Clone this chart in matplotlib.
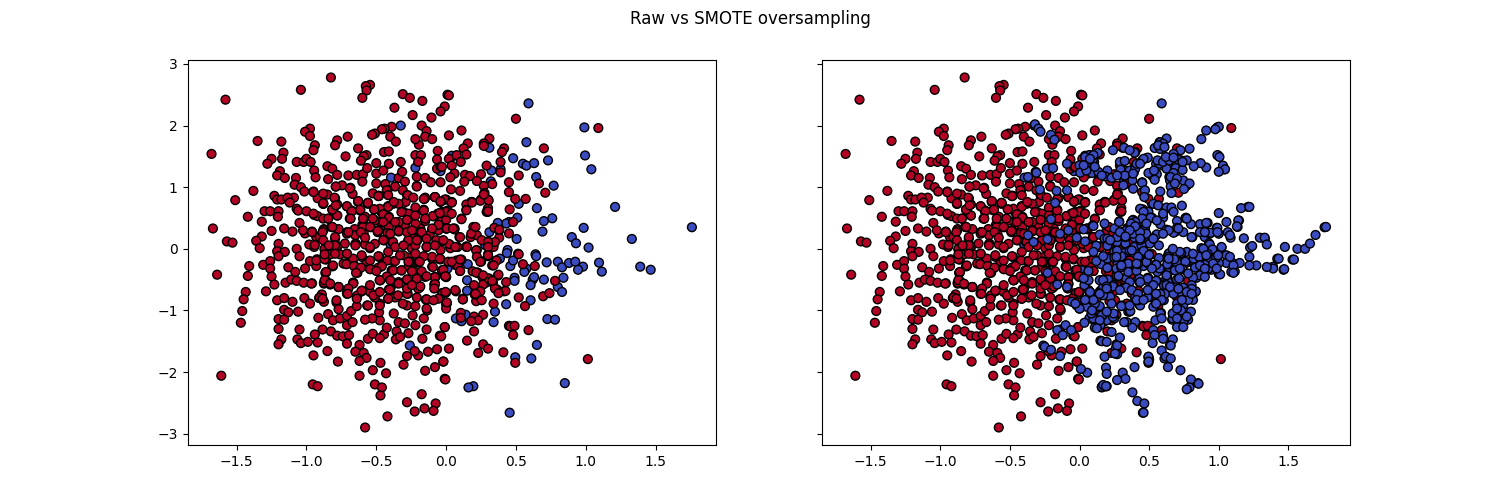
import matplotlib
matplotlib.use("Agg")
import matplotlib.pyplot as plt
import numpy as np

title = "Raw vs SMOTE oversampling"

majority_points = [
(-0.825,2.78),(-1.04,2.58),(-1.58,2.42),(-0.545,2.66),(-0.575,2.64),(-0.57,2.57),(-0.60,2.45),(-0.31,2.51),(-0.26,2.45),(-0.17,2.40),
(-0.37,2.29),(0.01,2.50),(-0.01,2.31),(-0.04,2.23),(-0.105,2.13),(-0.24,2.17),(-0.175,2.00),(-0.14,1.91),(-0.15,1.82),(-0.10,1.78),
(-0.39,1.98),(-0.44,1.95),(-0.46,1.94),(-0.51,1.87),(-0.53,1.85),(-0.40,1.82),(-0.36,1.74),(-0.975,1.95),(-1.01,1.90),(-0.975,1.83),
(-1.35,1.75),(-1.18,1.74),(-0.705,1.82),(-0.78,1.76),(-0.795,1.68),(-0.94,1.68),(-0.95,1.60),(-0.63,1.63),(-1.68,1.54),(-1.165,1.56),
(-1.175,1.46),(-1.25,1.46),(-1.28,1.38),(-0.72,1.50),(-0.57,1.52),(-0.59,1.50),(-0.61,1.43),(-0.445,1.57),(-0.41,1.58),(-0.22,1.52),
(-0.18,1.52),(-0.195,1.69),(-0.22,1.78),(-0.06,1.59),(-0.065,1.45),(-0.20,1.41),(-0.325,1.41),(-0.41,1.38),(-0.50,1.39),(-1.07,1.41),
(-1.02,1.41),(-1.0,1.46),(-0.97,1.41),(-0.945,1.27),(-0.935,1.16),(-0.85,1.34),(-0.815,1.30),(-0.78,1.20),(-1.19,1.26),(-1.21,1.19),
(-1.155,1.15),(-1.075,1.15),(-1.085,1.04),(-1.04,1.00),(-1.015,0.93),(-0.95,0.93),(-1.38,0.94),(-0.845,1.13),(-0.79,1.01),(-0.745,1.03),
(-0.70,1.19),(-0.64,1.20),(-0.595,1.21),(-0.565,1.31),(-0.50,1.22),(-0.45,1.27),(-0.34,1.15),(-0.60,1.09),(-0.685,0.99),(-0.50,1.06),
(-0.435,1.05),(-0.365,1.01),(-0.315,1.25),(-0.295,1.09),(-0.21,1.17),(-0.15,1.15),(-0.04,1.08),(-0.11,1.08),(-0.21,1.02),(-0.065,1.30),
(-0.04,1.33),(0.02,1.46),(-1.51,0.79),(-1.23,0.86),(-1.21,0.80),(-1.18,0.80),(-1.09,0.83),(-1.135,0.83),(-1.12,0.75),(-1.07,0.65),
(-1.06,0.62),(-1.0,0.61),(-0.92,0.82),(-0.88,0.73),(-0.85,0.88),(-0.795,0.82),(-0.78,0.72),(-0.71,0.69),(-0.67,0.89),(-0.63,0.77),
(-0.525,0.90),(-0.48,0.86),(-0.42,0.95),(-0.31,0.95),(-0.28,0.87),(-0.29,0.76),(-0.155,0.81),(-0.08,0.84),(0,0.80),(-0.56,0.73),
(-0.38,0.73),(-0.415,0.69),(-1.30,0.61),(-1.26,0.61),(-1.20,0.61),(-1.205,0.52),(-1.42,0.52),(-1.32,0.44),(-0.945,0.55),(-0.92,0.53),
(-0.845,0.49),(-0.815,0.64),(-0.78,0.54),(-0.68,0.61),(-0.615,0.63),(-0.685,0.49),(-0.59,0.49),(-0.515,0.64),(-0.465,0.60),(-0.45,0.49),
(-0.41,0.52),(-0.305,0.60),(-0.265,0.56),(-0.22,0.57),(-0.165,0.62),(-0.09,0.53),(-0.03,0.60),(0.01,0.62),(-1.05,0.42),(-0.815,0.35),
(-0.875,0.32),(-0.96,0.28),(-1.01,0.25),(-1.025,0.30),(-1.10,0.28),(-1.16,0.33),(-1.25,0.29),(-1.67,0.33),(-1.32,0.20),(-1.36,0.13),
(-1.57,0.12),(-1.53,0.10),(-1.335,0.01),(-1.20,0.08),(-1.21,-0.04),(-1.155,-0.05),(-1.07,0),(-0.98,0.07),(-0.945,0.03),(-0.90,0.21),
(-0.93,0.19),(-0.795,0.165),(-0.77,0.32),(-0.71,0.27),(-0.655,0.32),(-0.60,0.39),(-0.54,0.35),(-0.49,0.27),(-0.46,0.38),(-0.41,0.35),
(-0.34,0.28),(-0.295,0.38),(-0.24,0.27),(-0.185,0.33),(-0.10,0.30),(-0.05,0.38),(0,0.33),(-0.645,0.08),(-0.545,0.01),(-0.445,0.14),
(-0.385,0.11),(-0.27,0.14),(-0.245,0.01),(-0.135,0.04),(-0.04,-0.02),(0.03,0.06),(-0.87,-0.01),(-0.78,0.03),
(0.02,2.49),(0.50,2.11),(1.09,1.96),(0.11,1.92),(0.02,1.84),(0.31,1.79),(0.27,1.71),(0.27,1.67),(0.155,1.71),(0.125,1.63),
(0.075,1.52),(0.145,1.53),(0.105,1.41),(0.415,1.63),(0.40,1.57),(0.70,1.63),(0.39,1.41),(0.29,1.35),(0.39,1.24),(0.04,1.35),
(-0.03,1.33),(0.06,1.22),(0.03,1.16),(0.135,1.20),(0.17,1.18),(0.13,1.09),(0.25,1.21),(0.22,1.10),(0.52,1.19),(0.45,1.08),
(0.27,1.02),(0.33,1.05),(0.035,0.965),(0.10,0.94),(0.665,1.06),(0.71,0.91),(0.275,0.905),(0.45,0.92),(0.57,0.81),(0.495,0.81),
(0.30,0.80),(0.25,0.80),(0.18,0.76),(0.145,0.72),(0.04,0.755),(-0.01,0.80),(0.30,0.66),(0.30,0.60),(0.145,0.63),(0.455,0.64),
(0.11,0.49),(0.03,0.56),(0,0.59),(-0.03,0.49),(0.005,0.33),(0.06,0.33),(0.205,0.35),(0.345,0.34),(0.38,0.30),(0.45,0.25),
(0.38,0.18),(0.095,0.19),(0.175,0.19),(0.30,0.12),(0.34,0.03),(0.22,-0.02),(0.145,0.04),(0.08,0.03),(0.03,0.01),(-0.025,0.13),
(0.48,0.435),(0.515,-0.08),(0.30,-0.09),
(-1.64,-0.42),(-1.41,-0.28),(-1.42,-0.44),(-1.435,-0.70),(-1.45,-0.82),(-1.46,-1.01),(-1.47,-1.20),(-1.61,-2.06),(-1.31,-0.26),(-1.26,-0.20),
(-1.26,-0.32),(-1.25,-0.45),(-1.23,-0.58),(-1.29,-0.69),(-1.20,-0.12),(-1.13,-0.30),(-1.08,-0.375),(-1.15,-0.55),(-1.11,-0.50),(-1.07,-0.52),
(-1.02,-0.55),(-0.96,-0.56),(-1.01,-0.32),(-0.975,-0.20),(-0.925,-0.17),(-0.93,-0.28),(-0.865,-0.39),(-0.86,-0.52),(-0.875,-0.565),(-0.81,-0.28),
(-0.86,-0.175),(-0.77,-0.62),(-0.83,-0.58),(-1.21,-0.835),(-1.16,-0.80),(-1.10,-0.86),(-1.16,-0.99),(-1.13,-1.03),(-1.06,-1.02),(-1.20,-1.14),
(-1.16,-1.15),(-1.20,-1.30),(-1.05,-1.31),(-1.18,-1.47),(-1.20,-1.55),(-1.065,-1.47),(-1.04,-1.53),(-0.99,-1.51),(-0.92,-1.52),(-0.94,-1.39),
(-0.885,-1.31),(-0.915,-1.12),(-1.015,-0.80),(-0.975,-0.89),(-0.91,-0.80),(-0.875,-0.86),(-0.89,-0.74),(-0.785,-0.87),(-0.77,-0.98),(-0.845,-1.06),
(-0.81,-1.16),(-0.76,-1.13),(-0.71,-1.09),(-0.71,-1.24),(-0.67,-1.19),(-0.68,-1.01),(-0.64,-0.93),(-0.71,-0.71),(-0.825,-1.34),(-0.78,-1.41),
(-0.74,-1.42),(-0.695,-1.40),(-0.71,-1.54),(-0.85,-1.66),(-0.95,-1.73),(-0.775,-1.83),(-0.955,-2.20),(-0.92,-2.23),(-0.62,-1.56),(-0.65,-1.67),
(-0.59,-1.69),(-0.57,-1.77),(-0.62,-1.82),(-0.56,-1.46),(-0.525,-1.38),(-0.47,-1.85),(-0.525,-1.97),(-0.43,-2.02),(-0.62,-2.06),(-0.51,-2.20),
(-0.46,-2.25),(-0.47,-2.38),(-0.28,-2.49),(-0.175,-2.36),(-0.075,-2.51),(-0.225,-2.64),(-0.155,-2.59),(-0.09,-2.63),(-0.42,-2.72),(-0.58,-2.90),
(-0.305,-1.88),(-0.28,-1.74),(-0.15,-1.98),(-0.08,-1.92),(-0.02,-1.83),(-0.01,-2.11),(-0.065,-1.63),(-0.13,-1.67),(-0.20,-1.73),(-0.225,-1.66),
(-0.17,-1.46),(-0.045,-1.41),(-0.01,-1.27),(-0.14,-1.31),(-0.27,-1.37),(-0.355,-1.34),(-0.36,-1.47),(-0.33,-1.43),(-0.445,-1.39),(-0.475,-1.45),
(-0.425,-1.28),(-0.475,-1.16),(-0.34,-1.19),(-0.295,-1.21),(-0.22,-1.24),(-0.16,-1.13),(-0.135,-1.0),(-0.24,-1.08),(-0.375,-1.05),(-0.48,-1.03),
(-0.53,-1.13),(-0.58,-1.15),(-0.565,-0.92),(-0.475,-0.89),(-0.28,-0.92),(-0.22,-0.93),(-0.14,-0.82),(-0.415,-0.81),(-0.51,-0.79),(-0.64,-0.78),
(-0.60,-0.68),(-0.41,-0.66),(-0.275,-0.73),(-0.19,-0.63),(-0.03,-0.72),(0,-0.90),(-0.085,-0.58),(-0.27,-0.52),(-0.37,-0.565),(-0.47,-0.51),
(-0.665,-0.55),(-0.545,-0.32),(-0.635,-0.39),(-0.465,-0.29),(-0.38,-0.35),(-0.27,-0.29),(-0.20,-0.22),(-0.10,-0.29),(-0.08,-0.47),(-0.21,-0.48),
(0,-0.46),(-0.66,-0.26),(-0.57,-0.20),(-0.48,-0.13),(-0.375,-0.20),(-0.265,-0.14),(-0.045,-0.17),(-0.71,-0.24),(-0.76,-0.09),(-0.83,-0.09),(-1.05,-0.12),
(0.52,-0.09),(0.30,-0.12),(0.11,-0.175),(0.25,-0.20),(0.36,-0.19),(0.33,-0.27),(0.065,-0.26),(0.55,-0.25),(0.635,-0.28),(0.10,-0.36),
(0.19,-0.365),(0.225,-0.39),(0.26,-0.46),(0.305,-0.48),(0.37,-0.435),(0.335,-0.55),(0.43,-0.54),(0.265,-0.58),(0,-0.45),(-0.03,-0.35),
(0.365,-0.66),(0.245,-0.69),(0.205,-0.74),(0.215,-0.85),(0.12,-0.82),(0.07,-0.69),(0.005,-0.89),(0,-0.97),(-0.025,-0.72),(0.52,-0.79),
(0.565,-0.93),(0.695,-0.77),(0.74,-0.72),(0.78,-0.52),(0.265,-1.07),(0.105,-1.04),(0.105,-1.12),(0.20,-1.10),(0.23,-1.16),(0.18,-1.175),
(-0.01,-1.27),(0.20,-1.34),(-0.035,-1.42),(0.45,-1.25),(0.46,-1.26),(0.49,-1.25),(0.48,-1.40),(0.59,-1.32),(0.15,-1.49),(0.265,-1.55),
(0.30,-1.62),(0.23,-1.69),(0.41,-1.68),(0.495,-1.85),(0.02,-1.62),(-0.02,-1.83),(-0.005,-2.12),(1.015,-1.79),
(-0.95,0.92),(-0.79,1.01),(-0.69,0.98),(-0.485,0.86),(-0.425,0.95),(-0.275,0.87),(-0.21,1.01),(-0.15,0.83),(-0.08,0.84),(0.04,0.76),
(-0.04,0.76),(0.245,0.78),(0.185,0.76),(0.29,0.60),(-0.88,0.73),(-0.81,0.635),(-0.78,0.54),(-0.68,0.625),(-0.63,0.76),(-0.56,0.745),
(-0.62,0.625),(-0.475,0.65),(-0.415,0.69),(-0.34,0.73),(-0.27,0.57),(-0.22,0.67),(-0.16,0.635),(-0.09,0.53),(0,0.60),(0,0.47),
(-0.06,0.57),(-0.95,0.57),(-0.69,0.49),(-0.58,0.52),(-0.51,0.46),(-0.41,0.505),(-0.34,0.435),(-0.22,0.41),(-0.15,0.45),(-0.96,0.27),
(-0.88,0.30),(-0.82,0.355),(-0.905,0.19),(-0.795,0.19),(-0.71,0.245),(-0.59,0.38),(-0.65,0.22),(-0.59,0.245),(-0.485,0.30),(-0.42,0.255),
(-0.34,0.30),(-0.25,0.245),(-0.18,0.27),(-0.12,0.22),(-0.055,0.30),(0,0.33),(0.06,0.315),(0.195,0.355),(0.22,0.22),(0.38,0.31),
(-0.94,0.06),(-0.87,0),(-0.78,0.045),(-0.71,-0.08),(-0.65,0.08),(-0.58,0.07),(-0.51,0.08),(-0.445,0.14),(-0.38,0.11),(-0.27,0.14),
(-0.22,0.055),(-0.14,0.03),(-0.205,0.14),(-0.07,0.14),(0.02,0.08),(0.08,0.03),(0.145,0.03),(0.215,-0.025),(0.30,0.11),(-0.93,-0.19),
(-0.87,-0.17),(-0.815,-0.285),(-0.735,-0.24),(-0.665,-0.16),(-0.605,-0.13),(-0.64,-0.32),(-0.48,-0.13),(-0.42,-0.19),(-0.365,-0.20),(-0.305,-0.105),
(-0.19,-0.21),(-0.26,-0.21),(-0.10,-0.16),(-0.04,-0.17),(0.015,-0.21),(0.075,-0.19),(0.25,-0.21),(0.36,-0.19),(-0.86,-0.385),(-0.54,-0.33),
(-0.485,-0.305),(-0.39,-0.35),(-0.32,-0.35),(-0.235,-0.35),(-0.15,-0.455),(-0.08,-0.455),(-0.01,-0.44),(0.085,-0.285),(0.225,-0.385),(0.305,-0.485),
(0.375,-0.42),(-0.965,-0.565),(-0.875,-0.55),(-0.77,-0.62),(-0.665,-0.55),(-0.605,-0.69),(-0.545,-0.70),(-0.475,-0.51),(-0.40,-0.655),(-0.34,-0.54),
(-0.27,-0.52),(-0.20,-0.645),(-0.08,-0.565),(0.065,-0.67),(0.21,-0.745),(0.425,-0.685),(0.35,-0.645),(-0.905,-0.79),(-0.71,-0.73),(-0.635,-0.755),
(-0.52,-0.755),(-0.365,-0.79),(-0.28,-0.73),(-0.145,-0.825),(-0.055,-0.81),(0.12,-0.81),
(-0.88,0.74),(-0.88,0.895),(-0.80,0.83),(-0.815,0.635),(-0.79,0.705),(-0.71,0.69),(-0.63,0.775),(-0.56,0.745),(-0.485,0.855),(-0.415,0.87),
(-0.415,0.68),(-0.375,0.76),(-0.675,0.61),(-0.615,0.635),(-0.515,0.64),(-0.45,0.56),(-0.41,0.505),(-0.32,0.595),(-0.28,0.47),(-0.88,0.49),
(-0.815,0.355),(-0.845,0.49),(-0.685,0.49),(-0.595,0.355),(-0.595,0.49),(-0.525,0.49),(-0.45,0.435),(-0.365,0.435),(-0.70,0.27),(-0.61,0.27),
(-0.545,0.355),(-0.49,0.29),(-0.40,0.245),(-0.34,0.29),(-0.28,0.27),(-0.885,0.27),(-0.795,0.055),(-0.725,0.085),(-0.65,0.055),(-0.58,0.18),
(-0.545,0.03),(-0.45,0.14),(-0.365,0.03),(-0.305,0.055),(-0.88,0.14),(-0.84,0.055),
(-0.16,0.81),(-0.08,0.84),(-0.04,0.77),(0.04,0.75),(-0.235,0.83),(-0.16,0.62),(-0.095,0.53),(0,0.60),(0.04,0.57),(-0.045,0.58),
(-0.22,0.54),(-0.15,0.49),(0.145,0.625),(0.185,0.75),(0.30,0.61),(0.305,0.785),(0.27,0.88),(0.11,0.48),(-0.055,0.39),(-0.10,0.33),
(0.005,0.33),(0.05,0.33),(-0.175,0.27),(-0.245,0.30),(0.10,0.19),(0.18,0.245),(0.21,0.355),(0.255,0.14),(0.35,0.11),(0.30,0.11),
(-0.21,0.14),(-0.14,0.165),(-0.02,0.14),(-0.14,0.03),(-0.08,0.055),(0.065,0.03),(0.15,0.03),(0.30,0.03),
(-0.87,-0.09),(-0.795,-0.08),(-0.71,-0.08),(-0.605,-0.105),(-0.545,-0.19),(-0.485,-0.12),(-0.415,-0.05),(-0.33,-0.105),(-0.27,-0.21),(-0.81,-0.27),
(-0.715,-0.25),(-0.66,-0.28),(-0.61,-0.305),(-0.545,-0.33),(-0.46,-0.28),(-0.38,-0.35),(-0.32,-0.35),(-0.86,-0.375),(-0.645,-0.39),(-0.50,-0.36),
(-0.425,-0.45),(-0.28,-0.495),(-0.87,-0.51),(-0.83,-0.565),(-0.77,-0.62),(-0.665,-0.565),(-0.70,-0.645),(-0.605,-0.68),(-0.545,-0.59),(-0.475,-0.51),
(-0.40,-0.51),(-0.34,-0.565),(-0.405,-0.66),(-0.475,-0.70),(-0.28,-0.645),(-0.885,-0.81),(-0.785,-0.835),(-0.705,-0.73),(-0.64,-0.81),(-0.56,-0.92),
(-0.475,-0.92),(-0.415,-0.81),(-0.345,-0.755),(-0.31,-0.89),
(-0.22,-0.08),(-0.16,-0.12),(-0.10,-0.13),(-0.045,-0.16),(0.04,-0.21),(0.10,-0.175),(0.22,-0.13),(0.30,-0.105),(0.245,-0.21),(0.34,-0.27),
(-0.19,-0.21),(-0.095,-0.295),(-0.175,-0.365),(-0.245,-0.365),(-0.02,-0.34),(0.10,-0.36),(-0.08,-0.46),(-0.005,-0.445),(-0.21,-0.485),(-0.14,-0.445),
(0.215,-0.385),(0.265,-0.43),(0.33,-0.52),(-0.08,-0.575),(-0.185,-0.61),(-0.245,-0.59),(0.20,-0.59),(-0.005,-0.70),(-0.085,-0.645),(-0.21,-0.79),
(-0.14,-0.82),(-0.09,-0.835),(0.005,-0.87),(0.21,-0.73),(0.12,-0.82),(0.255,-0.835),(0.375,-0.72),(0.34,-0.89),(-0.14,-0.97),
]

minority_points = [
(0.59,2.36),(0.99,1.97),(0.31,1.64),(0.575,1.73),(0.48,1.47),(0.55,1.38),(0.575,1.35),(0.63,1.39),(0.73,1.435),(0.995,1.515),
(1.04,1.29),(0.325,1.27),(0.39,1.29),(0.645,1.165),(0.77,1.025),(0.32,1.095),(0.05,1.505),(0.52,0.73),(0.65,0.66),(1.21,0.68),
(0.76,0.495),(0.70,0.45),(0.51,0.505),(0.45,0.435),(0.43,0.41),(0.37,0.42),(0.69,0.28),(1.76,0.35),(0.985,0.34),(0.90,0.19),
(0.93,0.09),(1.02,0.02),(1.33,0.16),(0.31,0.27),(0.505,0.16),(0.28,0.06),(0.44,-0.02),(0.64,-0.09),(0.645,-0.12),(0.435,-0.07),
(0.385,-0.16),(0.155,-0.25),(0.01,-0.32),(0.46,-0.28),(0.48,-0.19),(0.575,-0.32),(0.56,-0.375),(0.72,-0.22),(0.80,-0.21),(0.83,-0.30),
(0.88,-0.23),(0.925,-0.21),(0.98,-0.29),(0.945,-0.34),(1.095,-0.225),(1.115,-0.37),(1.39,-0.29),(1.465,-0.34),(0.15,-0.51),(0.285,-0.55),
(0.49,-0.47),(0.49,-0.52),(0.62,-0.50),(0.63,-0.46),(0.605,-0.59),(0.70,-0.50),(0.84,-0.47),(0.80,-0.62),(0.83,-0.70),(0.415,-0.69),
(0.15,-0.68),(0,-0.71),(0.43,-0.90),(0.605,-0.835),(0.35,-1.02),(0.34,-1.19),(0.14,-1.07),(0.07,-1.13),(0.11,-1.175),(0.725,-1.14),
(0.78,-1.15),(0.65,-1.56),(0.495,-1.76),(0.61,-1.78),(0.85,-2.18),(0.195,-2.23),(0.16,-2.25),(0.455,-2.66),(-0.26,-1.57),(-0.325,2.0),
(-0.22,1.315),(-0.395,1.155),(0.04,1.51),(-0.04,1.26),(-0.40,0.08),
]

smote_points = [
(1.0,1.98),(0.975,1.94),(0.91,1.92),(0.875,1.78),(0.625,1.79),(0.58,1.73),(0.60,1.705),(0.54,1.635),(0.58,1.62),(0.565,1.68),
(0.61,1.65),(0.79,1.625),(0.725,1.60),(0.675,1.54),(0.99,1.52),(1.005,1.49),(1.03,1.35),(1.045,1.29),(1.0,1.25),(0.91,1.32),
(0.87,1.39),(0.82,1.34),(0.77,1.435),(0.71,1.445),(0.64,1.38),(0.575,1.38),(0.625,1.30),(0.69,1.31),(0.74,1.28),(0.675,1.23),
(0.49,1.48),(0.45,1.435),(0.395,1.56),(0.32,1.64),(0.24,1.60),(0.36,1.60),(0.13,1.555),(0.07,1.52),(0.095,1.445),(0.04,1.49),
(0,1.355),(0.045,1.355),(-0.09,1.38),(0.005,1.235),(0.09,1.23),(0.14,1.22),(0.20,1.27),(0.185,1.175),(0.23,1.15),(0.29,1.41),
(0.325,1.425),(0.295,1.285),(0.36,1.27),(0.40,1.30),(0.41,1.38),(0.325,1.19),(0.315,1.03),(0.38,1.11),(0.385,0.975),(0.45,1.07),
(0.47,0.95),(0.465,0.84),(0.495,1.23),(0.555,1.21),(0.54,1.12),(0.65,1.11),(0.655,1.01),(0.66,0.905),(0.745,1.11),(0.79,1.06),
(0.75,0.97),(0.58,0.93),(0.53,0.73),(0.565,0.705),(0.625,0.67),(0.66,0.67),(0.675,0.60),(0.735,0.70),(1.16,0.66),(1.22,0.68),
(1.0,0.58),(0.495,0.60),(0.60,0.505),(0.52,0.505),(0.46,0.435),(0.385,0.47),(0.285,0.445),(0.18,0.41),(0.25,0.33),(0.335,0.30),
(0.40,0.355),(0.47,0.33),(0.58,0.40),(0.625,0.31),(0.675,0.26),(0.70,0.34),(0.765,0.505),(0.80,0.40),(0.865,0.40),(0.92,0.42),
(0.745,0.27),(0.81,0.19),(0.935,0.245),(0.99,0.34),(1.0,0.245),(1.055,0.435),(1.065,0.27),(1.085,0.18),(1.135,0.355),(1.145,0.46),
(1.18,0.17),(1.295,0.18),(1.33,0.18),(1.345,0.07),(1.225,0.02),(1.24,0.045),(1.475,0.03),(1.565,0),(1.62,0),(1.655,0.085),
(1.695,0.225),(1.77,0.355),(1.42,-0.16),(1.53,-0.175),(0.095,0.38),(0.03,0.315),(0.145,0.23),(0.18,0.165),(0.26,0.11),(0.325,0.085),
(0.395,0.18),(0.395,0.03),(0.46,-0.025),(0.48,0.245),(0.55,0.22),(0.57,0.055),(0.505,0.085),(0.32,-0.07),(0.64,-0.08),(0.735,-0.07),
(0.77,-0.05),(0.875,0.01),(0.935,0.07),(1.02,0.03),(0.96,-0.05),(1.055,-0.105),(1.22,-0.13),(-0.08,0.30),(-0.14,0.245),(-0.23,0.155),
(-0.33,0.11),(-0.37,0.22),(-0.205,0.48),(-0.175,0.745),(-0.285,0.96),(-0.165,0.94),(-0.09,0.95),(-0.31,1.235),(-0.37,1.165),(-0.235,1.30),
(-0.19,1.31),(-0.205,1.85),(-0.18,1.77),(-0.32,2.02),(-0.295,1.95),(-0.28,1.90),
(1.47,-0.33),(1.39,-0.32),(1.345,-0.295),(1.27,-0.27),(1.22,-0.27),(1.43,-0.16),(1.54,-0.175),(1.15,-0.23),(1.09,-0.375),(1.055,-0.23),
(1.00,-0.41),(1.0,-0.23),(0.93,-0.20),(0.93,-0.32),(0.83,-0.305),(0.865,-0.43),(0.765,-0.23),(0.70,-0.23),(0.63,-0.14),(0.575,-0.32),
(0.635,-0.39),(0.495,-0.24),(0.48,-0.215),(0.405,-0.34),(0.34,-0.25),(0.27,-0.21),(0.27,-0.35),(0.20,-0.16),(0.20,-0.31),(0.064,-0.36),
(0.205,-0.50),(0.245,-0.59),(0.17,-0.62),(0.135,-0.72),(0.035,-0.59),(-0.16,-0.58),(-0.23,-0.39),(0.335,-0.48),(0.42,-0.49),(0.495,-0.48),
(0.555,-0.52),(0.635,-0.54),(0.715,-0.48),(0.815,-0.47),(0.72,-0.70),(0.805,-0.59),(0.83,-0.70),(0.775,-0.78),(0.815,-0.83),(0.575,-0.73),
(0.615,-0.73),(0.49,-0.78),(0.43,-0.90),(0.40,-0.82),(0.55,-0.88),(0.585,-1.04),(0.735,-0.92),(0.80,-1.02),(0.67,-1.05),(0.73,-1.06),
(0.75,-1.16),(0.665,-1.15),(0.70,-1.27),(0.745,-1.27),(0.545,-1.16),(0.30,-0.92),(0.36,-1.02),(0.32,-1.19),(0.40,-1.19),(0.38,-1.28),
(0.25,-1.13),(0.195,-1.16),(0.165,-1.08),(0.10,-1.13),(0.15,-1.24),(0.11,-1.28),(0.035,-1.20),(0.05,-0.94),(-0.02,-0.92),(-0.055,-0.86),
(0.145,-0.93),(-0.10,-1.24),(-0.06,-1.32),(-0.16,-1.32),(-0.12,-1.40),(-0.25,-1.59),(-0.205,-1.64),(-0.14,-1.74),(0.53,-1.32),(0.54,-1.40),
(0.60,-1.40),(0.67,-1.47),(0.655,-1.57),(0.525,-1.53),(0.23,-1.35),(0.29,-1.44),(0.16,-1.50),(0.195,-1.51),(0.26,-1.62),(0.27,-1.71),
(0.18,-1.75),(0.59,-1.65),(0.62,-1.75),(0.655,-1.78),(0.50,-1.80),(0.395,-1.92),(0.635,-1.92),(0.725,-1.97),(0.19,-1.93),(0.195,-2.03),
(0.31,-2.01),(0.33,-2.11),(0.27,-2.13),(0.055,-2.01),(0.01,-1.95),(0.185,-2.23),(0.16,-2.24),(0.80,-2.12),(0.855,-2.19),(0.79,-2.25),
(0.77,-2.28),(0.38,-2.33),(0.415,-2.47),(0.465,-2.51),(0.46,-2.66),
(0.10,0.37),(0.285,0.435),(0.38,0.46),(0.46,0.435),(0.51,0.505),(0.77,0.49),(0.91,0.42),(0.71,0.33),(0.64,0.30),(0.805,0.19),
(0.94,0.26),(1.14,0.46),(1.13,0.365),(1.08,0.22),(0.20,0.165),(0.27,0.11),(0.33,0.085),(0.555,0.235),(0.445,0.055),(0.46,-0.035),
(0.645,-0.07),(0.955,-0.01),(0.73,-0.07),(0.64,-0.13),(0.76,-0.21),(0.82,-0.16),(1.105,-0.27),(1.105,-0.39),(0.925,-0.32),(1.01,-0.415),
(0.90,-0.455),(0.35,-0.24),(0.265,-0.32),(0.35,-0.375),(0.41,-0.36),(0.28,-0.44),(0.145,-0.51),(0.24,-0.61),(0.36,-0.54),(0.43,-0.485),
(0.49,-0.485),(0.625,-0.43),(0.55,-0.52),(0.335,-0.63),(0.40,-0.79),(0.435,-0.92),(0.49,-0.79),(0.58,-0.73),(0.625,-0.59),(0.68,-0.63),
(0.835,-0.69),(0.77,-0.78),(0.745,-0.92),(0.30,-0.93),(0.365,-1.01),(0.075,-0.755),(0.24,-1.105),(0.58,-1.05),(0.67,-1.13),(0.16,-1.08),
(0.085,-1.05),(0.25,-0.05),(0.30,-0.12),(0.36,-0.03),(0.42,-0.13),(0.50,-0.10),(0.57,-0.15),(0.68,-0.17),(0.72,-0.05),(0.86,-0.13),
(0.92,-0.08),(0.98,-0.15),(1.08,-0.13),(0.30,-0.30),(0.42,-0.25),(0.55,-0.26),(0.63,-0.25),(0.74,-0.33),(0.78,-0.40),(0.90,-0.26),
(0.12,0.05),(0.20,0.05),(0.27,-0.03),(0.10,-0.05),(0.04,0.12),(-0.02,0.18),(0.12,-0.20),(0.17,-0.12),(0.25,-0.14),
(0.46,1.46),(0.435,1.38),(0.535,1.27),(0.56,1.435),(0.60,1.41),(0.645,1.435),(0.62,1.49),(0.675,1.48),(0.74,1.41),(0.655,1.165),
(0.70,1.14),(0.685,1.06),(0.385,1.22),(0.27,1.19),(0.135,1.25),(0.05,1.27),(0.03,1.355),(0.11,1.33),(0.16,1.19),(0.10,1.52),
(0.075,1.46),(0.435,0.65),(0.46,0.60),(0.45,0.49),(0.40,0.435),(0.37,0.41),(0.555,0.46),(0.60,0.57),(0.48,0.41),(0.865,0.27),
(0.90,0.27),(0.99,0.27),(0.89,0),(0.27,0.19),(0.22,0.14),(0.29,0.27),(0.385,0.245),(0.435,0.27),(0.435,0.14),(0.33,0.19),
(0.53,0.165),(0.60,0.245),(0.67,0),(0.815,-0.08),(0.91,-0.105),(0.995,-0.105),
(0.40,0.365),(0.36,0.30),(0.33,0.20),(0.435,0.165),(0.375,-0.025),(0.53,0.165),(0.265,-0.13),(0.30,-0.27),(0.41,-0.24),(0.52,-0.32),
(0.64,-0.16),(0.685,-0.35),(0.72,-0.32),(0.865,-0.27),(0.90,-0.32),(0.96,-0.24),(0.985,-0.32),(0.17,-0.51),(0.195,-0.61),(0.29,-0.67),
(0.375,-0.67),(0.53,-0.59),(0.49,-0.67),(0.59,-0.83),(0.53,-0.94),(0.675,-0.73),(0.745,-0.63),(0.805,-0.65),(0.78,-0.83),(0.70,-0.89),
(0.22,-0.78),(0.17,-0.755),(0.23,-0.89),(0.36,-0.92),(0.42,-0.835),(0.11,-0.89),(0.67,-1.05),(0.73,-1.0),(0.59,-1.13),
(0.435,-0.54),(0.42,-0.73),(0.41,-0.83),(0.46,-0.83),(0.55,-0.73),(0.55,-0.89),(0.65,-0.62),(0.71,-0.65),(0.77,-0.70),(0.805,-0.73),
(0.735,-0.83),(0.70,-1.13),(0.70,-0.97),(0.77,-1.10),(0.245,-1.05),(0.195,-1.02),(0.09,-1.0),(0.0,-0.97),(0.145,-1.16),(0.125,-1.29),
(0.10,-0.83),(0.04,-0.83),(0.145,-0.73),(0.195,-0.645),(0.065,-0.51),(0.075,-0.70),(0.03,-0.48),(-0.09,-0.62),(-0.03,-0.89),(0.27,-1.57),
(0.255,-1.70),(0.60,-1.46),(0.495,-1.75),(0.495,-1.83),(0.17,-2.21),(0.19,-2.23),
]

plt.rcParams["font.family"] = "DejaVu Sans"
fig, axes = plt.subplots(1, 2, figsize=(15, 5), sharey=True)

raw = np.array(minority_points + majority_points)
raw_labels = np.array([0] * len(minority_points) + [1] * len(majority_points))
resampled = np.array(minority_points + majority_points + smote_points)
resampled_labels = np.array([0] * len(minority_points) + [1] * len(majority_points) + [0] * len(smote_points))

axes[0].scatter(raw[:, 0], raw[:, 1], c=raw_labels, cmap="coolwarm", edgecolors="k", s=40, linewidths=1)
axes[1].scatter(resampled[:, 0], resampled[:, 1], c=resampled_labels, cmap="coolwarm", edgecolors="k", s=40, linewidths=1)
fig.suptitle(title)
fig.savefig("out.png", dpi=100)
